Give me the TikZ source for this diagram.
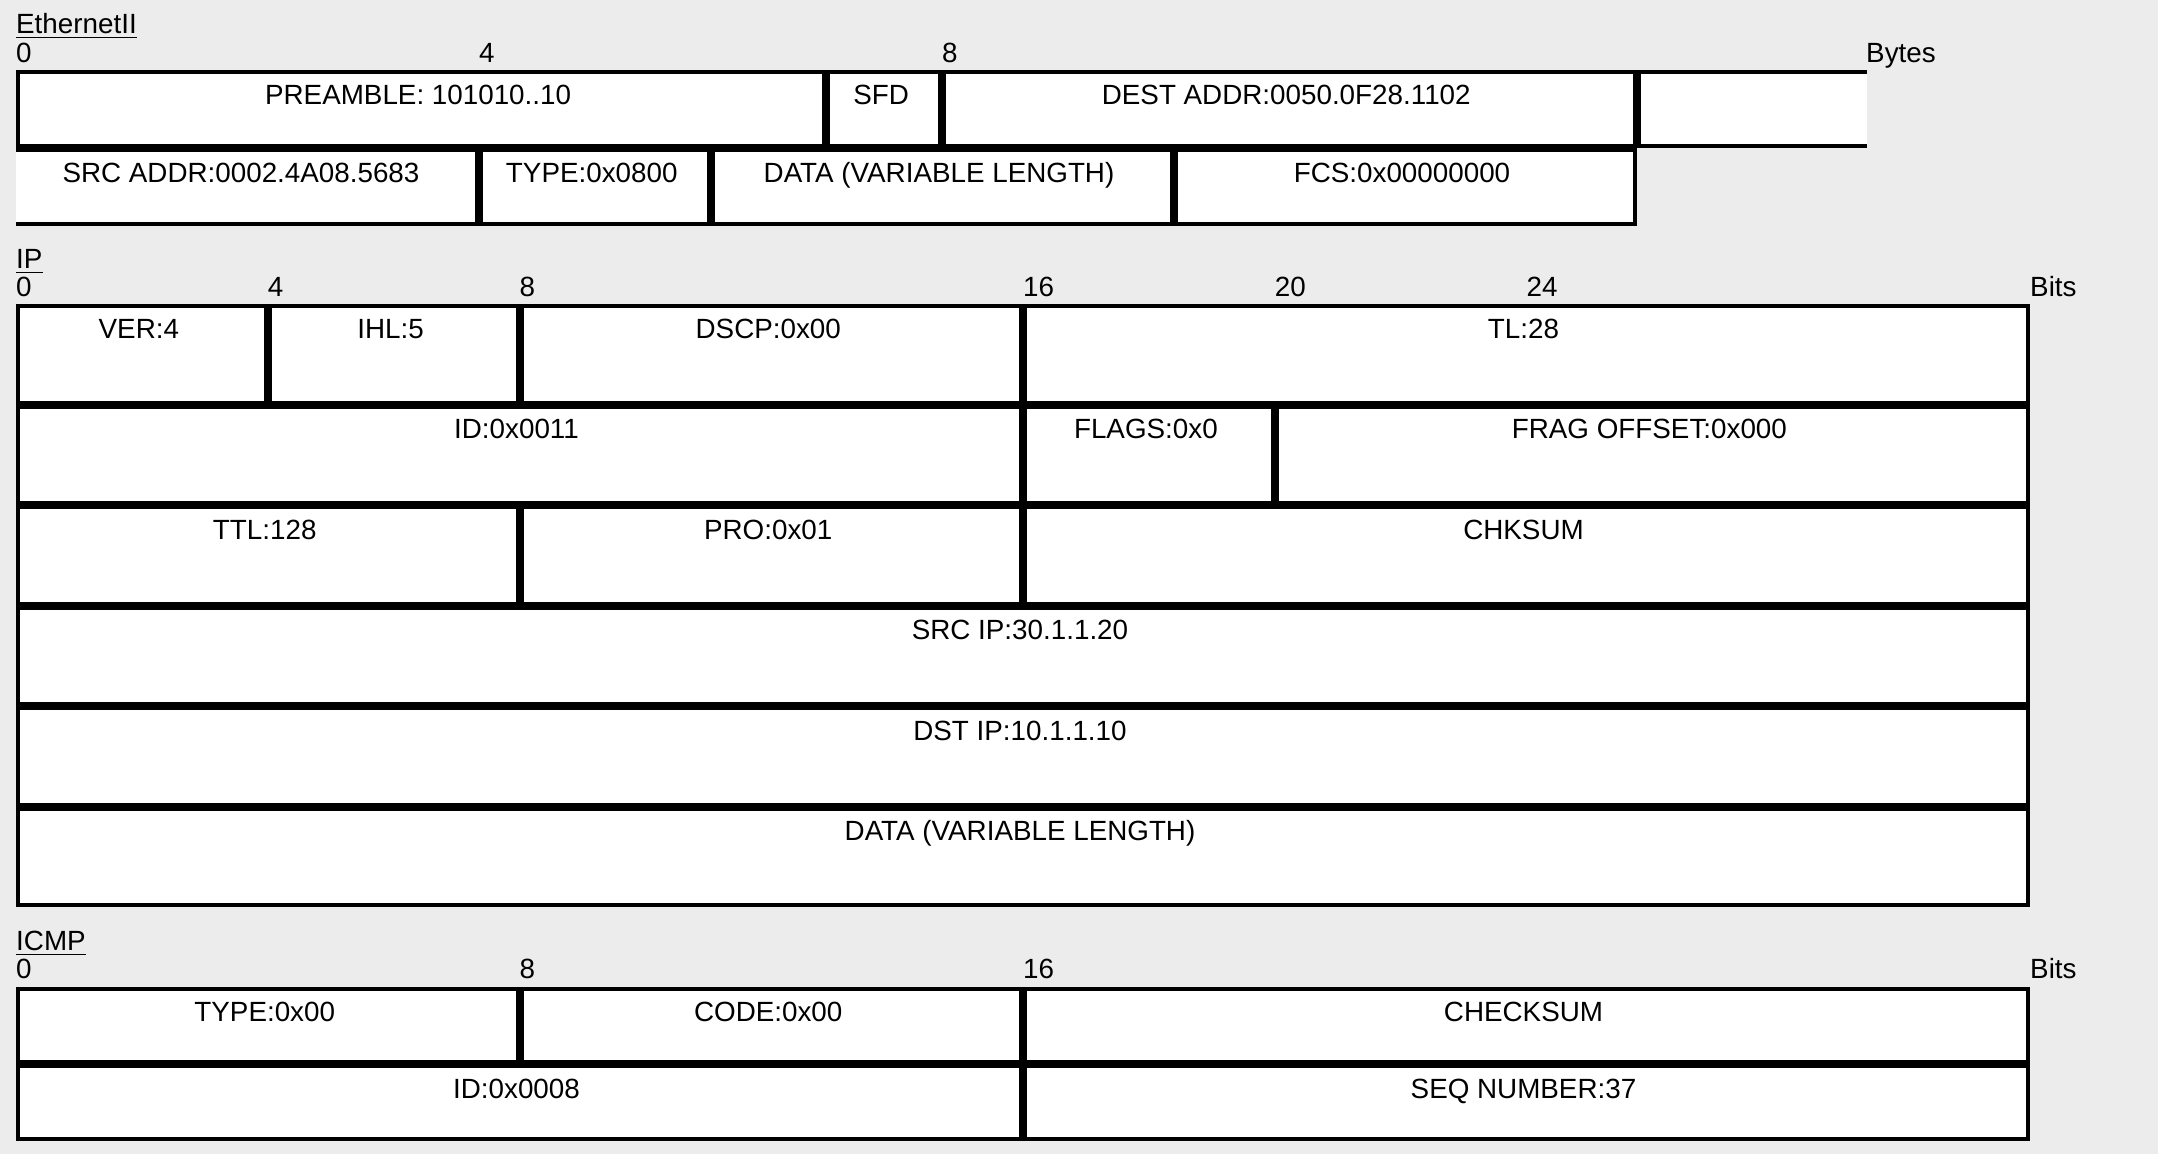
\documentclass[tikz,border=0pt]{standalone}
\usepackage{fontspec}
\setmainfont{Liberation Sans}
\definecolor{bg}{HTML}{ECECEC}
\tikzset{
  cellline/.style={line width=4pt, line join=miter},
  celltext/.style={anchor=base, inner sep=0pt, font=\fontsize{27.8}{33}\selectfont},
  lbl/.style={anchor=base west, inner sep=0pt, font=\fontsize{27.8}{33}\selectfont},
  uline/.style={line width=1.3pt},
}
\newcommand{\pktcell}[6]{%
  \fill[white] (#2,#3) rectangle (#4,#5);
  \draw[cellline] ({#2+2},{#3+2}) rectangle ({#4-2},{#5-2});
  \node[celltext] (#1) at ({(#2+#4)/2-3},{#3+34}) {#6};
}
\begin{document}
\begin{tikzpicture}[x=1pt,y=-1pt]
\useasboundingbox (0,0) rectangle (2158,1154);
\fill[bg] (0,0) rectangle (2158,1154);

% ---------------- EthernetII ----------------
\node[lbl] (eth) at (16,33.5) {EthernetII};
\draw[uline] ([yshift=-4.3pt]eth.base west) -- ([yshift=-4.3pt]eth.base east);
\node[lbl] (e0) at (16,62) {0};
\node[lbl] (e4) at (479,62) {4};
\node[lbl] (e8) at (942,62) {8};
\node[lbl] (eunit) at (1866,62) {Bytes};

\pktcell{pre}{16}{70}{826.25}{148}{PREAMBLE: 101010..10}
\pktcell{sfd}{826.25}{70}{942}{148}{SFD}
\pktcell{dst}{942}{70}{1636.5}{148}{DEST ADDR:0050.0F28.1102}
\fill[white] (1636.5,70) rectangle (1867,148);
\draw[cellline] (1867,72) -- (1638.5,72) -- (1638.5,146) -- (1867,146);

\fill[white] (16,148) rectangle (479,226);
\draw[cellline] (16,150) -- (477,150) -- (477,224) -- (16,224);
\node[celltext] (srca) at (241,182) {SRC ADDR:0002.4A08.5683};
\pktcell{etype}{479}{148}{710.5}{226}{TYPE:0x0800}
\pktcell{edata}{710.5}{148}{1173.5}{226}{DATA (VARIABLE LENGTH)}
\pktcell{fcs}{1173.5}{148}{1636.5}{226}{FCS:0x00000000}

% ---------------- IP ----------------
\node[lbl] (ip) at (16,268.5) {IP};
\draw[uline] ([yshift=-4.3pt]ip.base west) -- ([yshift=-4.3pt]ip.base east);
\node[lbl] (i0) at (16,296) {0};
\node[lbl] (i4) at (267.75,296) {4};
\node[lbl] (i8) at (519.5,296) {8};
\node[lbl] (i16) at (1023,296) {16};
\node[lbl] (i20) at (1274.75,296) {20};
\node[lbl] (i24) at (1526.5,296) {24};
\node[lbl] (iunit) at (2030,296) {Bits};

\pktcell{ver}{16}{304}{267.75}{404.5}{VER:4}
\pktcell{ihl}{267.75}{304}{519.5}{404.5}{IHL:5}
\pktcell{dscp}{519.5}{304}{1023}{404.5}{DSCP:0x00}
\pktcell{tl}{1023}{304}{2030}{404.5}{TL:28}

\pktcell{iid}{16}{404.5}{1023}{505}{ID:0x0011}
\pktcell{flags}{1023}{404.5}{1274.75}{505}{FLAGS:0x0}
\pktcell{frag}{1274.75}{404.5}{2030}{505}{FRAG OFFSET:0x000}

\pktcell{ttl}{16}{505}{519.5}{605.5}{TTL:128}
\pktcell{pro}{519.5}{505}{1023}{605.5}{PRO:0x01}
\pktcell{chk}{1023}{505}{2030}{605.5}{CHKSUM}

\pktcell{srcip}{16}{605.5}{2030}{706}{SRC IP:30.1.1.20}
\pktcell{dstip}{16}{706}{2030}{806.5}{DST IP:10.1.1.10}
\pktcell{idata}{16}{806.5}{2030}{907}{DATA (VARIABLE LENGTH)}

% ---------------- ICMP ----------------
\node[lbl] (icmp) at (16,950) {ICMP};
\draw[uline] ([yshift=-4.3pt]icmp.base west) -- ([yshift=-4.3pt]icmp.base east);
\node[lbl] (c0) at (16,978) {0};
\node[lbl] (c8) at (519.5,978) {8};
\node[lbl] (c16) at (1023,978) {16};
\node[lbl] (cunit) at (2030,978) {Bits};

\pktcell{ctype}{16}{987}{519.5}{1064}{TYPE:0x00}
\pktcell{ccode}{519.5}{987}{1023}{1064}{CODE:0x00}
\pktcell{cchk}{1023}{987}{2030}{1064}{CHECKSUM}
\pktcell{cid}{16}{1064}{1023}{1141}{ID:0x0008}
\pktcell{cseq}{1023}{1064}{2030}{1141}{SEQ NUMBER:37}
\end{tikzpicture}
\end{document}
